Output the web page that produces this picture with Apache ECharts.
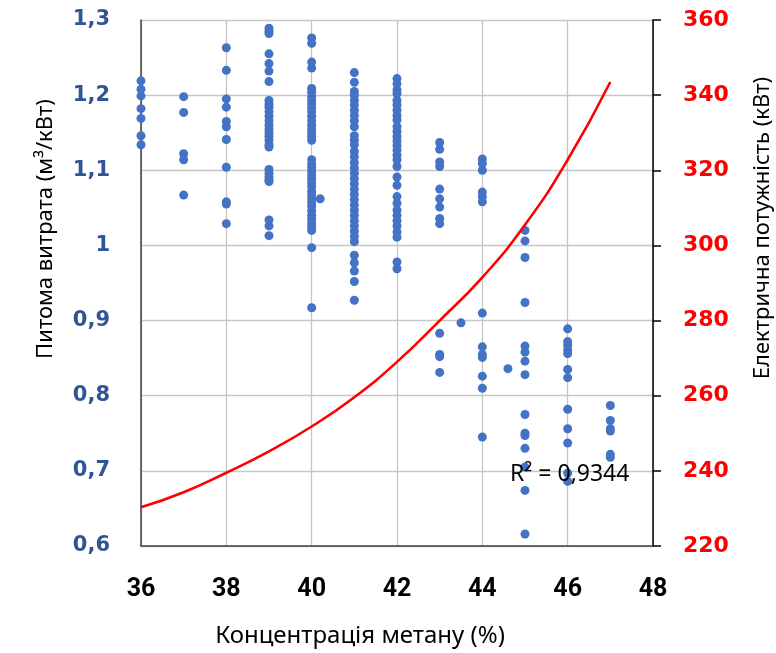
<!DOCTYPE html>
<html><head><meta charset="utf-8">
<script src="https://cdn.jsdelivr.net/npm/echarts@6/dist/echarts.min.js"></script>
<style>html,body{margin:0;padding:0;background:#fff}#c{width:776px;height:653px}</style>
</head><body><div id="c"></div>
<script>
// Specific consumption (m3/kWt) at each methane concentration (%)
const concLevels = [36, 37, 38, 39, 40, 41, 42, 43, 44, 45, 46, 47];
const r36 = [1.219, 1.208, 1.199, 1.182, 1.169, 1.146, 1.134];
const r37 = [1.198, 1.177, 1.122, 1.114, 1.067];
const r38 = [1.263, 1.233, 1.195, 1.184, 1.165, 1.158, 1.141, 1.104, 1.058, 1.055, 1.029];
const r39 = [1.289, 1.285, 1.282, 1.255, 1.242, 1.232, 1.218, 1.193, 1.188, 1.184, 1.178, 1.172, 1.166, 1.16, 1.155, 1.15, 1.145, 1.14, 1.134, 1.131, 1.101, 1.096, 1.091, 1.087, 1.085, 1.034, 1.026, 1.013];
const r40 = [1.276, 1.269, 1.244, 1.236, 1.209, 1.204, 1.198, 1.193, 1.188, 1.183, 1.178, 1.172, 1.166, 1.16, 1.155, 1.15, 1.145, 1.14, 1.114, 1.108, 1.103, 1.098, 1.093, 1.088, 1.083, 1.078, 1.072, 1.067, 1.062, 1.057, 1.052, 1.046, 1.04, 1.035, 1.03, 1.025, 1.02, 0.997, 0.917];
const r41 = [1.230, 1.217, 1.205, 1.2, 1.193, 1.187, 1.18, 1.173, 1.166, 1.158, 1.146, 1.14, 1.134, 1.125, 1.118, 1.11, 1.103, 1.096, 1.089, 1.082, 1.075, 1.068, 1.061, 1.054, 1.047, 1.04, 1.033, 1.026, 1.019, 1.012, 1.005, 0.987, 0.977, 0.966, 0.952, 0.927];
const r42 = [1.222, 1.215, 1.207, 1.202, 1.193, 1.187, 1.18, 1.173, 1.167, 1.158, 1.152, 1.145, 1.139, 1.133, 1.127, 1.12, 1.114, 1.105, 1.091, 1.08, 1.065, 1.056, 1.047, 1.04, 1.033, 1.026, 1.018, 1.011, 0.978, 0.969];
const r43 = [1.137, 1.128, 1.111, 1.105, 1.075, 1.062, 1.051, 1.036, 1.029, 0.883, 0.855, 0.852, 0.831];
const r44 = [1.115, 1.109, 1.1, 1.071, 1.065, 1.058, 0.91, 0.865, 0.855, 0.851, 0.826, 0.81, 0.745];
const r45 = [1.02, 1.006, 0.984, 0.924, 0.866, 0.858, 0.846, 0.828, 0.775, 0.75, 0.747, 0.73, 0.705, 0.674, 0.616];
const r46 = [0.889, 0.872, 0.867, 0.861, 0.856, 0.835, 0.824, 0.782, 0.756, 0.737, 0.697, 0.686];
const r47 = [0.787, 0.767, 0.756, 0.753, 0.722, 0.718];
const ratesByLevel = [r36, r37, r38, r39, r40, r41, r42, r43, r44, r45, r46, r47];
// points off the integer concentrations
const extraX = [40.2, 43.5, 44.6];
const extraY = [1.062, 0.897, 0.836];

// Electric power trend (kWt)
const powerX = [36, 37, 38, 39, 40, 41, 42, 43, 44, 45, 46, 47];
const powerY = [230.3, 234.3, 239.5, 245.2, 251.8, 259.6, 269.0, 280.0, 291.5, 305.5, 322.8, 343.5];

const xTicks = [36, 48, 2];
const leftTicks = [0.6, 1.3, 0.1];
const rightTicks = [220, 360, 20];
const r2Text = 'R² = 0,9344';

const scatterData = [];
concLevels.forEach((c, i) => ratesByLevel[i].forEach(v => scatterData.push([c, v])));
extraX.forEach((x, i) => scatterData.push([x, extraY[i]]));
const lineData = powerX.map((x, i) => [x, powerY[i]]);

const chart = echarts.init(document.getElementById('c'), null, {renderer: 'canvas'});
const numFont = 'DejaVu Sans';
chart.setOption({
  animation: false,
  backgroundColor: '#fff',
  grid: {left: 141, right: 123, top: 20, bottom: 107, containLabel: false},
  xAxis: {
    type: 'value', min: xTicks[0], max: xTicks[1], interval: xTicks[2],
    axisLine: {show: true, onZero: false, lineStyle: {color: '#404040', width: 1.5}},
    axisTick: {show: false},
    splitLine: {show: true, lineStyle: {color: '#c6c6c6', width: 1.3}},
    axisLabel: {margin: 31, fontFamily: 'Roboto', fontWeight: 'bold', fontSize: 25, color: '#000'}
  },
  yAxis: [{
    type: 'value', min: leftTicks[0], max: leftTicks[1], interval: leftTicks[2],
    axisLine: {show: true, onZero: false, lineStyle: {color: '#404040', width: 1.5}},
    axisTick: {show: false},
    splitLine: {show: true, lineStyle: {color: '#c6c6c6', width: 1.3}},
    axisLabel: {margin: 31, fontFamily: numFont, fontWeight: 'bold', fontSize: 21, color: '#2F5597',
      formatter: v => String(Math.round(v * 10) / 10).replace('.', ',')}
  }, {
    type: 'value', position: 'right', min: rightTicks[0], max: rightTicks[1], interval: rightTicks[2],
    axisLine: {show: true, onZero: false, lineStyle: {color: '#000', width: 1.5}},
    axisTick: {show: true, inside: false, length: 8, lineStyle: {color: '#000', width: 1.5}},
    splitLine: {show: false},
    axisLabel: {margin: 30, fontFamily: numFont, fontWeight: 'bold', fontSize: 22, color: '#FF0000'}
  }],
  series: [{
    type: 'scatter', xAxisIndex: 0, yAxisIndex: 0, data: scatterData,
    symbol: 'circle', symbolSize: 9, itemStyle: {color: '#4472C4', opacity: 1}, z: 3
  }, {
    type: 'line', xAxisIndex: 0, yAxisIndex: 1, data: lineData, smooth: true,
    showSymbol: false, symbol: 'none', lineStyle: {color: '#FF0000', width: 2.6}, z: 4
  }],
  graphic: [
    {type: 'text', x: 360, y: 636, z: 10,
      style: {text: 'Концентрація метану (%)', font: '24px "Noto Sans"', fill: '#000', align: 'center', verticalAlign: 'middle'}},
    {type: 'text', x: 46, y: 229, rotation: Math.PI / 2, z: 10,
      style: {text: 'Питома витрата (м³/кВт)', font: '22px "Noto Sans"', fill: '#000', align: 'center', verticalAlign: 'middle'}},
    {type: 'text', x: 763, y: 228, rotation: Math.PI / 2, z: 10,
      style: {text: 'Електрична потужність (кВт)', font: '22px "Noto Sans"', fill: '#000', align: 'center', verticalAlign: 'middle'}},
    {type: 'text', x: 510, y: 474, z: 10,
      style: {text: r2Text, font: '23px "Noto Sans"', fill: '#000', align: 'left', verticalAlign: 'middle'}}
  ]
});
</script></body></html>
